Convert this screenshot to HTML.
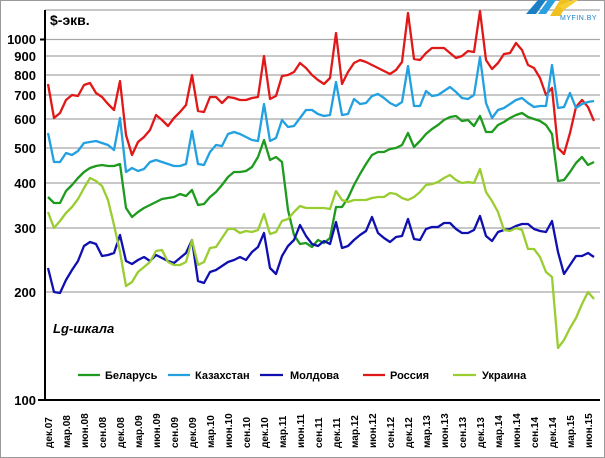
<!DOCTYPE html>
<html><head><meta charset="utf-8"><style>
html,body{margin:0;padding:0;background:#fff}
svg{display:block;font-family:"Liberation Sans",sans-serif}
</style></head><body>
<svg id="c" width="605" height="458" viewBox="0 0 605 458" xmlns="http://www.w3.org/2000/svg">
<rect x="0.5" y="0.5" width="604" height="457" fill="#fff" stroke="#9a9a9a"/>
<g stroke="#a6a6a6" stroke-width="1.3">
<line x1="45" x2="600" y1="10" y2="10"/>
<line x1="45" x2="600" y1="39.5" y2="39.5"/>
<line x1="45" x2="600" y1="56" y2="56"/>
<line x1="45" x2="600" y1="75" y2="75"/>
<line x1="45" x2="600" y1="95" y2="95"/>
<line x1="45" x2="600" y1="119" y2="119"/>
<line x1="45" x2="600" y1="148" y2="148"/>
<line x1="45" x2="600" y1="183" y2="183"/>
<line x1="45" x2="600" y1="228" y2="228"/>
<line x1="45" x2="600" y1="292" y2="292"/>
</g>
<g font-size="13" font-weight="bold" text-anchor="end" fill="#000">
<text x="36" y="44">1000</text><text x="36" y="61">900</text><text x="36" y="80">800</text>
<text x="36" y="100">700</text><text x="36" y="124">600</text><text x="36" y="153">500</text>
<text x="36" y="188">400</text><text x="36" y="233">300</text><text x="36" y="297">200</text>
<text x="36" y="405">100</text>
</g>
<text x="50" y="25" font-size="14" font-weight="bold">$-экв.</text>
<text x="53" y="333" font-size="13" font-weight="bold" font-style="italic">Lg-шкала</text>
<g id="lines" fill="none" stroke-width="2.3" stroke-linejoin="round"></g>
<line x1="45" x2="45" y1="10" y2="401" stroke="#000" stroke-width="2"/>
<line x1="38" x2="600" y1="400" y2="400" stroke="#000" stroke-width="2"/>
<line x1="40" x2="45" y1="39.5" y2="39.5" stroke="#000" stroke-width="2"/>
<g id="xl" font-size="10" font-weight="bold" fill="#000"></g>
<g font-size="11" font-weight="bold" fill="#000">
<line x1="78" x2="100" y1="375" y2="375" stroke="#1e9a1e" stroke-width="2.3"/><text x="105" y="379">Беларусь</text>
<line x1="168" x2="190" y1="375" y2="375" stroke="#22a0e0" stroke-width="2.3"/><text x="195" y="379">Казахстан</text>
<line x1="260" x2="283" y1="375" y2="375" stroke="#1010b0" stroke-width="2.3"/><text x="290" y="379">Молдова</text>
<line x1="363" x2="385" y1="375" y2="375" stroke="#e01818" stroke-width="2.3"/><text x="390" y="379">Россия</text>
<line x1="453" x2="476" y1="375" y2="375" stroke="#9acd32" stroke-width="2.3"/><text x="482" y="379">Украина</text>
</g>
<g>
<polygon points="526,14 538,0 546,0 536,14" fill="#1a7fc4"/>
<polygon points="538,14 548,0 556,0 546,14" fill="#2aa0e0"/>
<polygon points="550,16 560,0 570,0 560,16" fill="#f0c020"/>
<polygon points="558,6 573,0 578,0 564,10" fill="#f5d030"/>
<text x="560" y="20" font-size="7" fill="#1a7fc4" letter-spacing="0.5">MYFIN.BY</text>
</g>
</svg>
<script>
var S=[
["#e01818",[84,118,113,100,95,96,85,83,93,97,104,110,81,135,155,142,137,130,115,120,126,118,112,105,75,111,112,97,97,103,97,98,100,100,98,97,56,99,96,76,75,72,63,68,75,80,84,78,33,84,72,63,60,62,65,68,71,74,70,62,13,59,60,53,48,48,48,53,58,56,51,52,11,60,69,63,54,53,43,50,65,68,78,95,88,148,154,133,107,100,107,121]],
["#22a0e0",[133,162,162,153,155,151,143,142,141,143,145,150,118,172,168,171,169,162,160,162,164,166,166,164,131,164,165,152,145,146,134,132,134,137,140,141,104,141,138,120,127,126,118,110,110,114,116,115,82,115,114,99,104,103,96,94,98,103,106,102,66,106,106,91,96,95,91,87,92,98,99,95,57,103,118,110,108,104,100,98,103,107,106,106,65,108,107,93,108,104,102,101]],
["#1e9a1e",[197,203,203,191,185,178,172,168,166,165,166,166,164,208,217,212,208,205,202,199,198,197,194,196,190,205,204,197,192,185,177,172,172,171,167,157,140,160,157,162,210,235,244,243,247,240,243,238,207,207,198,185,174,164,155,152,152,149,148,145,133,147,141,134,129,125,120,117,116,121,120,126,116,132,132,125,122,118,115,113,117,119,121,125,134,181,180,172,163,157,165,162]],
["#1010b0",[268,292,293,280,270,261,246,242,244,256,255,253,235,261,264,260,257,261,255,258,261,263,258,253,240,281,283,272,270,266,262,260,257,260,252,247,233,268,274,256,246,240,225,236,244,246,241,244,222,248,246,240,235,231,217,233,238,242,237,236,219,239,240,229,227,227,223,223,229,233,233,230,216,236,241,232,230,229,226,224,224,229,231,232,221,252,274,265,256,256,253,257]],
["#9acd32",[212,228,221,213,207,199,188,178,181,186,200,225,252,286,282,272,267,262,251,250,262,265,265,262,240,265,262,248,247,238,229,229,233,231,232,230,214,234,232,221,219,212,206,208,208,208,208,209,191,200,202,200,200,200,198,197,197,193,194,198,200,197,192,185,184,182,178,175,180,183,182,183,169,192,201,212,230,231,228,230,249,249,257,272,277,348,340,328,318,304,292,299]]
];
var ns="http://www.w3.org/2000/svg",g=document.getElementById("lines");
S.forEach(function(s){var p=document.createElementNS(ns,"polyline");
p.setAttribute("points",s[1].map(function(y,i){return (48+i*6)+","+y}).join(" "));
p.setAttribute("stroke",s[0]);g.appendChild(p);});
var L=["дек","мар","июн","сен"],xl=document.getElementById("xl");
for(var k=0;k<31;k++){var yr=7+Math.floor((k+3)/4);var t=document.createElementNS(ns,"text");
var x=48+k*18+4;t.setAttribute("transform","translate("+x+",448) rotate(-90)");
t.textContent=L[k%4]+"."+(yr<10?"0":"")+yr;xl.appendChild(t);}
</script>
</body></html>
